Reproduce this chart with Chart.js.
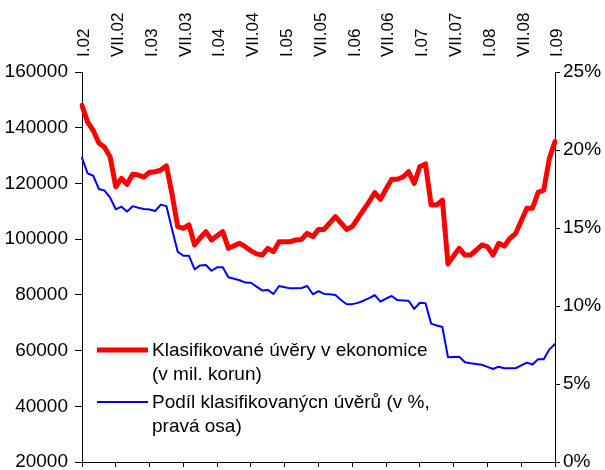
<!DOCTYPE html>
<html>
<head>
<meta charset="utf-8">
<script src="https://cdn.jsdelivr.net/npm/chart.js@4"></script>
<style>
html, body { margin: 0; padding: 0; background: #fff; }
</style>
</head>
<body>
<canvas id="graf-uvery" width="605" height="470"></canvas>
<script>
const MESICE = ['I', 'II', 'III', 'IV', 'V', 'VI', 'VII', 'VIII', 'IX', 'X', 'XI', 'XII'];
const ROKY = ['02', '03', '04', '05', '06', '07', '08', '09'];

// kategorie: I.02 ... I.09 (mesicne)
const kategorie = [];
ROKY.forEach(r => MESICE.forEach(m => kategorie.push(m + '.' + r)));
kategorie.length = 85;

const popiskyOsy = ['I.02', 'VII.02', 'I.03', 'VII.03', 'I.04', 'VII.04', 'I.05', 'VII.05',
    'I.06', 'VII.06', 'I.07', 'VII.07', 'I.08', 'VII.08', 'I.09'];

// Klasifikovane uvery v ekonomice (v mil. korun)
const klasifikovaneUvery = [
    148000, 142000, 139000, 134500, 133000, 129500, 118800, 121800, 119700, 123300,
    123000, 122300, 124000, 124200, 124800, 126300, 116000, 104500, 103900, 105100,
    97900, 100500, 102700, 99700, 101200, 102700, 96700, 97600, 98500, 97300,
    95800, 94700, 94300, 96700, 95500, 99100, 99100, 99100, 99700, 99900,
    102100, 100900, 103500, 103500, 105800, 108100, 105800, 103500, 104500, 107500,
    110500, 113500, 116700, 114300, 118000, 121500, 121500, 122300, 124200, 120000,
    126000, 127000, 112300, 112300, 114000, 91100, 94000, 96700, 94300, 94300,
    96000, 97900, 97300, 94300, 98500, 97500, 100300, 102000, 106500, 111100,
    111100, 116800, 117600, 129000, 135000
];

// Podil klasifikovanych uveru (v %, prava osa)
const podilUveru = [
    19.5, 18.5, 18.35, 17.5, 17.4, 16.95, 16.2, 16.37, 16.05, 16.4,
    16.3, 16.22, 16.18, 16.09, 16.5, 16.4, 14.9, 13.48, 13.22, 13.22,
    12.35, 12.6, 12.63, 12.26, 12.48, 12.48, 11.84, 11.75, 11.65, 11.5,
    11.49, 11.24, 11.0, 11.03, 10.77, 11.28, 11.2, 11.13, 11.13, 11.15,
    11.28, 10.75, 10.96, 10.77, 10.76, 10.7, 10.38, 10.11, 10.12, 10.2,
    10.34, 10.5, 10.7, 10.28, 10.48, 10.64, 10.38, 10.36, 10.34, 9.82,
    10.21, 10.17, 8.87, 8.75, 8.65, 6.71, 6.73, 6.75, 6.39, 6.33,
    6.28, 6.23, 6.1, 5.96, 6.11, 6.01, 6.01, 6.01, 6.2, 6.37,
    6.25, 6.58, 6.58, 7.22, 7.56
];

const legendaText = [
    ['Klasifikované úvěry v ekonomice', '(v mil. korun)'],
    ['Podíl klasifikovanýcn úvěrů (v %,', 'pravá osa)']
];

const FONT = '"Liberation Sans", Arial, sans-serif';

const legenda = {
    id: 'legenda',
    afterDraw(chart) {
        const ctx = chart.ctx;
        const a = chart.chartArea;
        ctx.save();
        ctx.font = '19px ' + FONT;
        ctx.fillStyle = '#000';
        ctx.textBaseline = 'middle';
        ctx.textAlign = 'left';
        chart.data.datasets.forEach((ds, i) => {
            const y = a.top + 278 + i * 52;
            ctx.strokeStyle = ds.borderColor;
            ctx.lineWidth = ds.borderWidth;
            ctx.beginPath();
            ctx.moveTo(a.left + 15, y);
            ctx.lineTo(a.left + 66, y);
            ctx.stroke();
            legendaText[i].forEach((t, j) => ctx.fillText(t, a.left + 70, y + 1 + j * 23.5));
        });
        ctx.restore();
    }
};

// pevne rozmery os, aby plocha grafu sedela na 82..555 x 72..462
function bezOkraju(s) {
    s.paddingTop = 0;
    s.paddingBottom = 0;
}

const data = {
    labels: kategorie,
    datasets: [{
        label: 'Klasifikované úvěry v ekonomice (v mil. korun)',
        data: klasifikovaneUvery,
        borderColor: '#ff0000',
        borderWidth: 5,
        yAxisID: 'y',
        xAxisID: 'x'
    }, {
        label: 'Podíl klasifikovanýcn úvěrů (v %, pravá osa)',
        data: podilUveru,
        borderColor: '#0000ff',
        borderWidth: 2,
        yAxisID: 'y1',
        xAxisID: 'x'
    }]
};

const options = {
    responsive: false,
    animation: false,
    devicePixelRatio: 1,
    layout: { padding: 0 },
    elements: {
        point: { radius: 0 },
        line: { tension: 0, borderJoinStyle: 'round', borderCapStyle: 'round' }
    },
    plugins: {
        legend: { display: false },
        tooltip: { enabled: false }
    },
    scales: {
        x: {
            type: 'category',
            position: 'bottom',
            grid: {
                drawOnChartArea: false,
                tickLength: 5,
                color: c => c.index % 6 === 0 ? '#000' : 'rgba(0,0,0,0)'
            },
            border: { color: '#000' },
            ticks: { display: false },
            afterFit(s) { s.height = 8; s.paddingLeft = 0; s.paddingRight = 0; }
        },
        xTop: {
            type: 'category',
            position: 'top',
            grid: { display: false, drawTicks: false },
            border: { display: false },
            ticks: {
                autoSkip: false,
                minRotation: 90,
                maxRotation: 90,
                padding: 15,
                labelOffset: 23,
                color: '#000',
                font: { family: FONT, size: 17 },
                callback(v) {
                    const l = this.getLabelForValue(v);
                    return popiskyOsy.includes(l) ? l : '';
                }
            },
            afterFit(s) { s.height = 72; s.paddingLeft = 0; s.paddingRight = 0; }
        },
        y: {
            position: 'left',
            min: 20000,
            max: 160000,
            grid: { drawOnChartArea: false, tickLength: 7, color: '#000' },
            border: { color: '#000' },
            ticks: {
                stepSize: 20000,
                padding: 7,
                color: '#000',
                font: { family: FONT, size: 19 },
                callback: v => String(v)
            },
            afterFit(s) { s.width = 82; bezOkraju(s); }
        },
        y1: {
            position: 'right',
            min: 0,
            max: 25,
            grid: { drawOnChartArea: false, tickLength: 5, color: '#000' },
            border: { color: '#000' },
            ticks: {
                stepSize: 5,
                padding: 3,
                color: '#000',
                font: { family: FONT, size: 19 },
                callback: v => v + '%'
            },
            afterFit(s) { s.width = 50; bezOkraju(s); }
        }
    }
};

const chart = new Chart(document.getElementById('graf-uvery'), {
    type: 'line',
    data: data,
    options: options,
    plugins: [legenda]
});
</script>
</body>
</html>
